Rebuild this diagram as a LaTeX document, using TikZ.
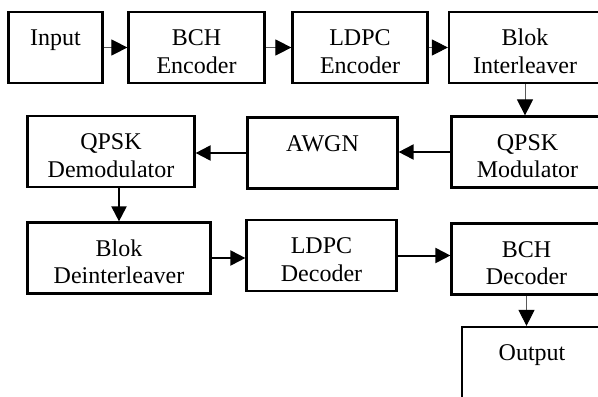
\documentclass[tikz,border=0pt]{standalone}
\usepackage{fontspec}
\setmainfont{Liberation Serif}
\usetikzlibrary{arrows.meta, positioning}
\tikzset{
    blk/.style={draw, rectangle, line width=1.1pt, align=center, inner sep=0pt,
        minimum height=35.5pt, font=\fontsize{12}{13.8}\selectfont},
    arrT/.style={draw=gray!70!black, line width=0.5pt,
        -{Triangle[length=8pt, width=8pt, color=black]}},
    arrK/.style={draw=black, line width=1pt,
        -{Triangle[length=7.5pt, width=7.5pt]}}
}
\newcommand{\blktxt}[2]{\rule{0pt}{12pt}#1\\\mbox{}#2}

\begin{document}
\begin{tikzpicture}[x=0.5pt, y=-0.5pt]
    \useasboundingbox (0,0) rectangle (598,396);
    \clip (0,0) rectangle (598,396);
    % first row
    \node[blk, minimum width=47pt] (input) at (55.5,47.5) {\blktxt{Input}{}};
    \node[blk, minimum width=68pt] (bchenc) at (196.5,47.5) {\blktxt{BCH}{Encoder}};
    \node[blk, minimum width=67.5pt] (ldpcenc) at (360,47.5) {\blktxt{LDPC}{Encoder}};
    \node[blk, minimum width=76pt] (intlv) at (525,47.5) {\blktxt{Blok}{Interleaver}};
    % second row
    \node[blk, minimum width=76pt] (qmod) at (527.5,152) {\blktxt{QPSK}{Modulator}};
    \node[blk, minimum width=75pt] (awgn) at (322.5,153) {\blktxt{AWGN}{}};
    \node[blk, minimum width=83.5pt] (qdemod) at (111,151.5) {\blktxt{QPSK}{Demodulator}};
    % third row
    \node[blk, minimum width=91.5pt] (deintlv) at (119,258) {\blktxt{Blok}{Deinterleaver}};
    \node[blk, minimum width=75pt] (ldpcdec) at (321.5,255.5) {\blktxt{LDPC}{Decoder}};
    \node[blk, minimum width=75pt] (bchdec) at (526.5,259) {\blktxt{BCH}{Decoder}};
    \node[blk, minimum width=70pt] (output) at (532,362.5) {\blktxt{Output}{}};
    % links
    \draw[arrT] (input.east) -- (input.east -| bchenc.west);
    \draw[arrT] (bchenc.east) -- (bchenc.east -| ldpcenc.west);
    \draw[arrT] (ldpcenc.east) -- (ldpcenc.east -| intlv.west);
    \draw[arrT] (intlv.south) -- (intlv.south |- qmod.north);
    \draw[arrK] (qmod.west) -- (qmod.west -| awgn.east);
    \draw[arrK] (awgn.west) -- (awgn.west -| qdemod.east);
    \draw[arrK] (qdemod.south -| deintlv.north) -- (deintlv.north);
    \draw[arrK] (deintlv.east) -- (deintlv.east -| ldpcdec.west);
    \draw[arrK] (ldpcdec.east) -- (ldpcdec.east -| bchdec.west);
    \draw[arrT] (bchdec.south) -- (bchdec.south |- output.north);
\end{tikzpicture}
\end{document}
